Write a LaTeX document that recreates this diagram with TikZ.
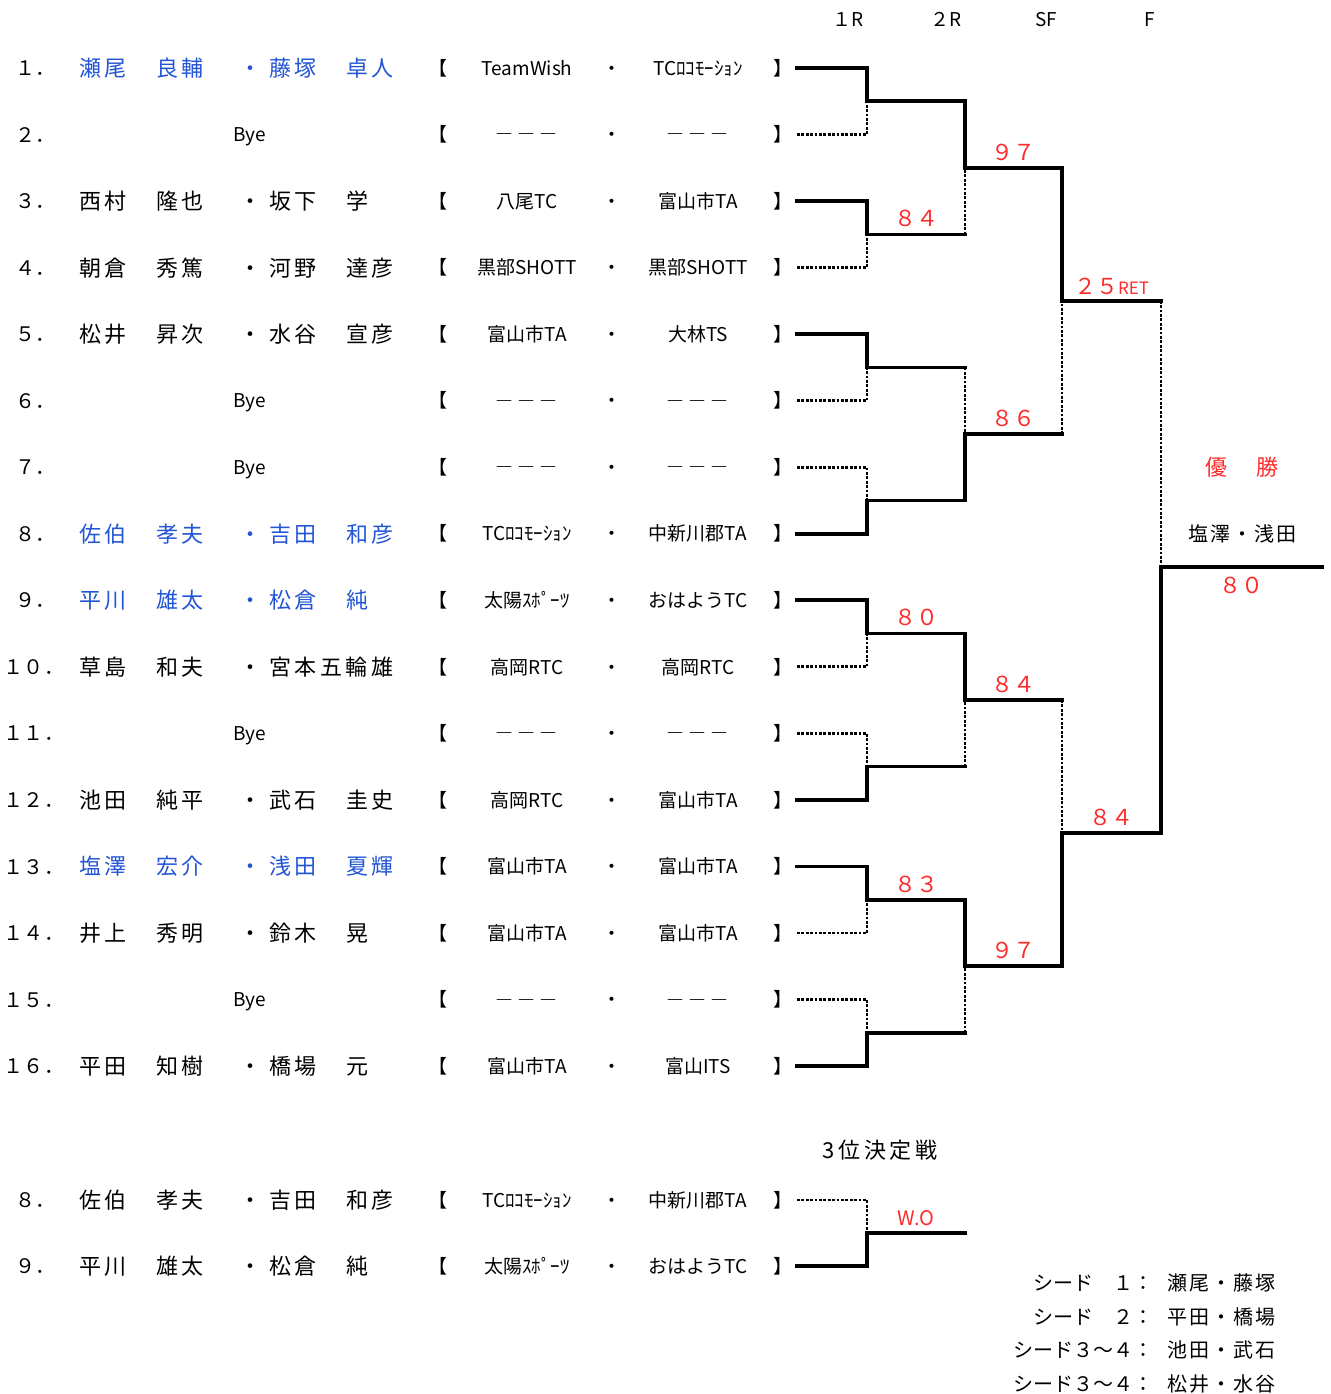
\documentclass[tikz,border=0pt]{standalone}
\usepackage{fontspec}
\usepackage{xcolor}
\setmainfont{Noto Sans CJK JP}
\newfontfamily\namefont[LetterSpace=16]{Noto Sans CJK JP}
\newfontfamily\seedfont[LetterSpace=10]{Noto Sans CJK JP}
\usetikzlibrary{calc,positioning}
\definecolor{seedblue}{HTML}{2254D6}
\definecolor{scorered}{HTML}{FF2A2A}

\begin{document}
\begin{tikzpicture}[x=1pt,y=-1pt,
    every node/.style={inner sep=0pt,outer sep=0pt},
    rowtxt/.style={font=\fontsize{19}{19}\selectfont,text height=16.7pt,text depth=2.3pt},
    numtxt/.style={font=\fontsize{20}{20}\selectfont,text height=17.6pt,text depth=2.4pt,anchor=west},
    nametxt/.style={font=\namefont\fontsize{22}{22}\selectfont,text height=19.4pt,text depth=2.6pt},
    dashtxt/.style={font=\bfseries\fontsize{17}{17}\selectfont,text height=15pt,text depth=2pt},
    score/.style={font=\fontsize{22}{22}\selectfont,text height=19.4pt,text depth=2.6pt,text=scorered},
    seedtxt/.style={font=\seedfont\fontsize{20}{20}\selectfont,text height=17.6pt,text depth=2.4pt},
    seedlbl/.style={font=\fontsize{20}{20}\selectfont,text height=17.6pt,text depth=2.4pt,anchor=east},
    wonline/.style={line width=3.7pt,line cap=rect},
    lostline/.style={line width=2.8pt,dash pattern=on 2.8pt off 1.6pt}]
    \useasboundingbox (0,0) rectangle (1330,1394);

    % Round headers
    \node[rowtxt] (h1) at (848,19) {１R};
    \node[rowtxt] (h2) at (946,19) {２R};
    \node[rowtxt] (h3) at (1046,19) {SF};
    \node[rowtxt] (h4) at (1150,19) {F};

    % Entries
    \foreach \id/\y/\nx/\num/\cl/\sa/\ga/\sb/\gb/\ca/\cb in {
        1/68.0/15/１．/seedblue/瀬尾/良輔/藤塚/卓人/TeamWish/TCﾛｺﾓｰｼｮﾝ,
        3/201.1/15/３．/black/西村/隆也/坂下/学/八尾TC/富山市TA,
        4/267.6/15/４．/black/朝倉/秀篤/河野/達彦/黒部SHOTT/黒部SHOTT,
        5/334.1/15/５．/black/松井/昇次/水谷/宣彦/富山市TA/大林TS,
        8/533.7/15/８．/seedblue/佐伯/孝夫/吉田/和彦/TCﾛｺﾓｰｼｮﾝ/中新川郡TA,
        9/600.3/15/９．/seedblue/平川/雄太/松倉/純/太陽ｽﾎﾟｰﾂ/おはようTC,
        10/666.8/4/１０．/black/草島/和夫/宮本五輪雄//高岡RTC/高岡RTC,
        12/799.9/4/１２．/black/池田/純平/武石/圭史/高岡RTC/富山市TA,
        13/866.4/4/１３．/seedblue/塩澤/宏介/浅田/夏輝/富山市TA/富山市TA,
        14/932.9/4/１４．/black/井上/秀明/鈴木/晃/富山市TA/富山市TA,
        16/1066.0/4/１６．/black/平田/知樹/橋場/元/富山市TA/富山ITS,
        t1/1200.0/15/８．/black/佐伯/孝夫/吉田/和彦/TCﾛｺﾓｰｼｮﾝ/中新川郡TA,
        t2/1266.0/15/９．/black/平川/雄太/松倉/純/太陽ｽﾎﾟｰﾂ/おはようTC}{
        \node[numtxt] (no\id) at (\nx,\y) {\num};
        \node[nametxt,anchor=west,text=\cl] (sa\id) at (79,\y) {\sa};
        \node[nametxt,anchor=west,text=\cl] (ga\id) at (156,\y) {\ga};
        \node[nametxt,text=\cl] (dt\id) at (250,\y) {・};
        \node[nametxt,anchor=west,text=\cl] (sb\id) at (269,\y) {\sb};
        \node[nametxt,anchor=west,text=\cl] (gb\id) at (346,\y) {\gb};
        \node[rowtxt,anchor=west] (lb\id) at (428,\y) {【};
        \node[rowtxt] (ca\id) at (527,\y) {\ca};
        \node[rowtxt] (cd\id) at (612,\y) {・};
        \node[rowtxt] (cb\id) at (698,\y) {\cb};
        \node[rowtxt,anchor=west] (rb\id) at (773,\y) {】};
        \coordinate (e\id) at (797,\y);
    }

    % Byes
    \foreach \id/\y/\nx/\num in {2/134.5/15/２．, 6/400.7/15/６．, 7/467.2/15/７．,
        11/733.3/4/１１．, 15/999.5/4/１５．}{
        \node[numtxt] (no\id) at (\nx,\y) {\num};
        \node[rowtxt] (by\id) at (250,\y) {Bye};
        \node[rowtxt,anchor=west] (lb\id) at (428,\y) {【};
        \node[dashtxt] (ca\id) at (526,\y) {―\hspace{5pt}―\hspace{5pt}―};
        \node[rowtxt] (cd\id) at (612,\y) {・};
        \node[dashtxt] (cb\id) at (697,\y) {―\hspace{5pt}―\hspace{5pt}―};
        \node[rowtxt,anchor=west] (rb\id) at (773,\y) {】};
        \coordinate (e\id) at (797,\y);
    }

    % Junctions
    \foreach \k in {1,...,8}{
        \pgfmathtruncatemacro\u{2*\k-1}\pgfmathtruncatemacro\l{2*\k}
        \coordinate (a\k) at ($(e\u)!.5!(e\l)+(70,0)$);
    }
    \foreach \k in {1,...,4}{
        \pgfmathtruncatemacro\u{2*\k-1}\pgfmathtruncatemacro\l{2*\k}
        \coordinate (b\k) at ($(a\u)!.5!(a\l)+(98,0)$);
    }
    \coordinate (s1) at ($(b1)!.5!(b2)+(97,0)$);
    \coordinate (s2) at ($(b3)!.5!(b4)+(97,0)$);
    \coordinate (f1) at ($(s1)!.5!(s2)+(99,0)$);
    \coordinate (ch) at ($(f1)+(161,0)$);
    \coordinate (tm) at ($(et1)!.5!(et2)+(70,0)$);
    \coordinate (to) at ($(tm)+(98,0)$);

    % 1R
    \foreach \i/\k in {1/1,3/2,5/3,8/4,9/5,12/6,13/7,16/8} \draw[wonline] (e\i) -| (a\k);
    \foreach \i/\k in {2/1,4/2,6/3,7/4,10/5,11/6,14/7,15/8} \draw[lostline] (e\i) -| (a\k);

    % 2R
    \foreach \k/\j in {1/1,4/2,5/3,7/4} \draw[wonline] (a\k) -| (b\j);
    \foreach \k/\j in {2/1,3/2,6/3,8/4}{
        \draw[wonline] (a\k) -- (a\k -| b\j);
        \draw[lostline] (a\k -| b\j) -- (b\j);
    }

    % SF
    \draw[wonline] (b1) -| (s1);
    \draw[wonline] (b2) -- (b2 -| s1); \draw[lostline] (b2 -| s1) -- (s1);
    \draw[wonline] (b4) -| (s2);
    \draw[wonline] (b3) -- (b3 -| s2); \draw[lostline] (b3 -| s2) -- (s2);

    % F
    \draw[wonline] (s2) -| (f1) -- (ch);
    \draw[wonline] (s1) -- (s1 -| f1); \draw[lostline] (s1 -| f1) -- (f1);

    % 3rd place
    \draw[lostline] (et1) -| (tm);
    \draw[wonline] (et2) -| (tm) -- (to);
    \node[nametxt] (tp) at (880,1150) {3位決定戦};

    % Scores
    \node[score] (sc1) at ($(a2)!.5!(a2 -| b1)+(0,-16)$) {８４};
    \node[score] (sc2) at ($(a5)!.5!(a5 -| b3)+(0,-16)$) {８０};
    \node[score] (sc3) at ($(a7)!.5!(a7 -| b4)+(0,-16)$) {８３};
    \node[score] (sc4) at ($(b1)!.5!(b1 -| s1)+(0,-16)$) {９７};
    \node[score] (sc5) at ($(b2)!.5!(b2 -| s1)+(0,-16)$) {８６};
    \node[score] (sc6) at ($(b3)!.5!(b3 -| s2)+(0,-16)$) {８４};
    \node[score] (sc7) at ($(b4)!.5!(b4 -| s2)+(0,-16)$) {９７};
    \node[score] (sc8) at ($(s1)!.5!(s1 -| f1)+(0,-15)$) {２５{\fontsize{17}{17}\selectfont RET}};
    \node[score] (sc9) at ($(s2)!.5!(s2 -| f1)+(0,-16)$) {８４};
    \node[score] (sc10) at ($(f1)!.5!(ch)+(0,18)$) {８０};
    \node[score,font=\fontsize{20}{20}\selectfont] (sc11) at ($(tm)!.5!(to)+(0,-16)$) {W.O};

    % Champion
    \node[nametxt,text=scorered] (win) at (1242,467) {優　勝};
    \node[seedtxt] (champ) at (1242,534) {塩澤・浅田};

    % Seeds
    \node[seedlbl] (sd1) at (1153,1283) {シード　１：};
    \node[seedlbl] (sd2) at (1153,1317) {シード　２：};
    \node[seedlbl] (sd3) at (1153,1350) {シード３～４：};
    \node[seedlbl] (sd4) at (1153,1384) {シード３～４：};
    \node[seedtxt,anchor=west] (sn1) at (1167,1283) {瀬尾・藤塚};
    \node[seedtxt,anchor=west] (sn2) at (1167,1317) {平田・橋場};
    \node[seedtxt,anchor=west] (sn3) at (1167,1350) {池田・武石};
    \node[seedtxt,anchor=west] (sn4) at (1167,1384) {松井・水谷};
\end{tikzpicture}
\end{document}
